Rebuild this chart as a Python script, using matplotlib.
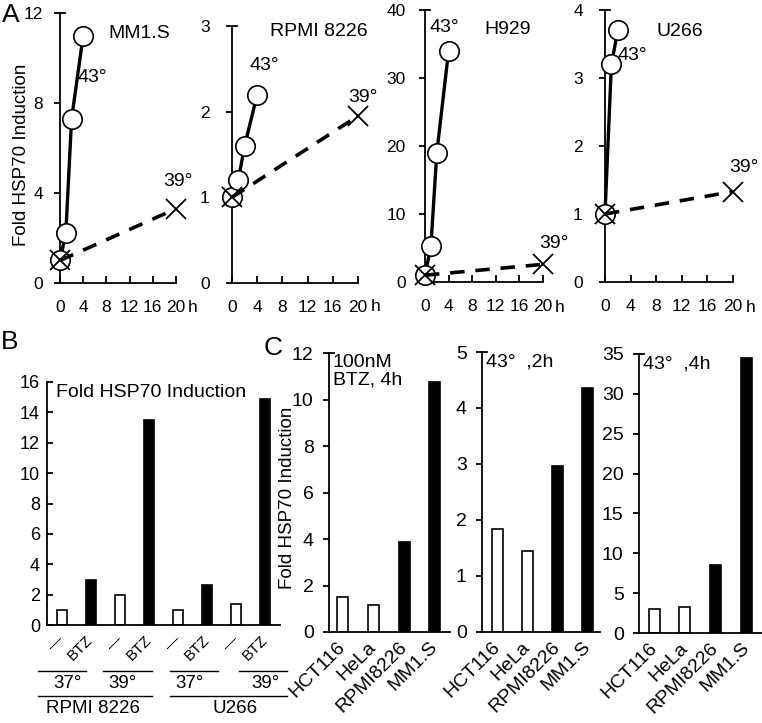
import matplotlib
matplotlib.use("Agg")
import matplotlib.pyplot as plt
from matplotlib.transforms import blended_transform_factory

plt.rcParams['font.family'] = ['Liberation Sans', 'DejaVu Sans']
plt.rcParams['axes.linewidth'] = 1.3

W, H = 762, 723

# ---- panel A: time course, fold HSP70 induction ----
hours_43 = [0, 1, 2, 4]
hours_39 = [0, 20]
mm1s_43 = [1.0, 2.2, 7.3, 11.0]
mm1s_39 = [1.0, 3.3]
rpmi_43 = [1.0, 1.2, 1.6, 2.2]
rpmi_39 = [1.0, 1.95]
h929_43 = [1.0, 5.3, 19.0, 34.0]
h929_39 = [1.0, 2.6]
u266_hours_43 = [0, 1, 2]
u266_43 = [1.0, 3.2, 3.7]
u266_39 = [1.0, 1.33]
time_ticks = [0, 4, 8, 12, 16, 20]

# ---- panel B ----
b_labels = ['—', 'BTZ', '—', 'BTZ', '—', 'BTZ', '—', 'BTZ']
b_values = [1.0, 2.95, 1.95, 13.5, 1.0, 2.65, 1.35, 14.9]
b_colors = ['white', 'black'] * 4
b_temps = ['37°', '39°', '37°', '39°']
b_lines = ['RPMI 8226', 'U266']

# ---- panel C ----
c_cells = ['HCT116', 'HeLa', 'RPMI8226', 'MM1.S']
c_btz = [1.5, 1.15, 3.85, 10.75]
c_43_2h = [1.84, 1.45, 2.96, 4.35]
c_43_4h = [3.0, 3.25, 8.5, 34.5]
c_colors = ['white', 'white', 'black', 'black']

fig = plt.figure(figsize=(W / 100, H / 100), dpi=100)


def add_ax(l, t, r, b):
    # pixel box -> figure fraction
    return fig.add_axes([l / W, 1 - b / H, (r - l) / W, (b - t) / H])


def ftext(x, y, s, **kw):
    fig.text(x / W, 1 - y / H, s, **kw)


def top_tick(ax, width_px):
    ax.plot([0, 5 / width_px], [1, 1], color='black', lw=1.3,
            transform=ax.transAxes, clip_on=False)


# A
a_specs = [
    ((60, 13, 176, 283), 12, [0, 4, 8, 12], mm1s_43, mm1s_39, hours_43, 8),
    ((232, 26, 358, 283), 3, [0, 1, 2, 3], rpmi_43, rpmi_39, hours_43, 12),
    ((425, 10, 543, 282), 40, [0, 10, 20, 30, 40], h929_43, h929_39, hours_43, 10),
    ((605, 10, 733, 282), 4, [0, 1, 2, 3, 4], u266_43, u266_39, u266_hours_43, 12),
]
for box, ymax, yt, v43, v39, t43, pad in a_specs:
    ax = add_ax(*box)
    ax.plot(t43, v43, '-', color='black', lw=2.4, marker='o', ms=14,
            mfc='white', mec='black', mew=1.2, clip_on=False, zorder=3)
    ax.plot(hours_39, v39, '--', color='black', lw=2.6, dashes=(4, 3),
            marker='x', ms=14, mew=1.3, clip_on=False, zorder=4)
    ax.set_xlim(0, 20)
    ax.set_ylim(0, ymax)
    ax.set_xticks(time_ticks)
    ax.set_yticks(yt)
    ax.spines['top'].set_visible(False)
    ax.spines['right'].set_visible(False)
    ax.tick_params(axis='x', direction='in', length=5, width=1.3, pad=12, labelsize=12.5)
    ax.tick_params(axis='y', direction='out', length=4, width=1.3, pad=pad, labelsize=12.5)
    ax.text(1.14, -0.092, 'h', transform=ax.transAxes, fontsize=12.5, ha='center', va='center')
    top_tick(ax, box[2] - box[0])

ftext(22, 155, 'Fold HSP70 Induction', rotation=90, fontsize=13.5, ha='center', va='center')
ftext(11, 15, 'A', fontsize=19, ha='center', va='center')
ftext(108, 33, 'MM1.S', fontsize=14, va='center')
ftext(78, 77, '43°', fontsize=14, va='center')
ftext(163, 182, '39°', fontsize=14, va='center')
ftext(270, 32, 'RPMI 8226', fontsize=14, va='center')
ftext(250, 65, '43°', fontsize=14, va='center')
ftext(348, 97, '39°', fontsize=14, va='center')
ftext(484, 30, 'H929', fontsize=14, va='center')
ftext(429, 28, '43°', fontsize=14, va='center')
ftext(539, 243, '39°', fontsize=14, va='center')
ftext(657, 32, 'U266', fontsize=14, va='center')
ftext(618, 55, '43°', fontsize=14, va='center')
ftext(729, 168, '39°', fontsize=14, va='center')

# B
axb = add_ax(47, 382, 280, 625)
xb = list(range(len(b_values)))
axb.bar(xb, b_values, width=0.34, color=b_colors, edgecolor='black', linewidth=1.2)
axb.set_xlim(-0.5, 7.5)
axb.set_ylim(0, 16)
axb.set_yticks(range(0, 17, 2))
axb.set_xticks(xb)
axb.set_xticklabels(b_labels, rotation=45, ha='right', va='center',
                    rotation_mode='anchor', fontsize=11)
axb.spines['top'].set_visible(False)
axb.spines['right'].set_visible(False)
axb.tick_params(axis='y', direction='in', length=4, width=1.3, pad=5, labelsize=13)
axb.tick_params(axis='x', length=0, pad=9)
axb.text(0.04, 0.99, 'Fold HSP70 Induction', transform=axb.transAxes,
         fontsize=14, va='top')
tb = blended_transform_factory(axb.transData, axb.transAxes)
pair_spans = [(-0.81, 0.84), (1.42, 3.1), (3.73, 5.38), (6.1, 7.75)]
pair_text_x = [0.19, 2.1, 4.41, 6.99]
for (x0, x1), tx, s in zip(pair_spans, pair_text_x, b_temps):
    axb.plot([x0, x1], [-0.19, -0.19], color='black', lw=1, transform=tb, clip_on=False)
    axb.text(tx, -0.242, s, transform=tb, fontsize=13.5, ha='center', va='center')
for (x0, x1), tx, s in zip([(-0.81, 3.1), (3.73, 7.75)], [1.08, 5.96], b_lines):
    axb.plot([x0, x1], [-0.293, -0.293], color='black', lw=1, transform=tb, clip_on=False)
    axb.text(tx, -0.345, s, transform=tb, fontsize=13.5, ha='center', va='center')
ftext(10, 342, 'B', fontsize=19, ha='center', va='center')

# C
c_specs = [
    ((329, 353, 450, 632), c_btz, 12, range(0, 13, 2), (-0.45, 3.5), '100nM\nBTZ, 4h'),
    ((482, 352, 600, 632), c_43_2h, 5, range(0, 6), (-0.5, 3.4), '43°  ,2h'),
    ((639, 354, 762, 633), c_43_4h, 35, range(0, 36, 5), (-0.49, 3.5), '43°  ,4h'),
]
for box, vals, ymax, yt, xl, note in c_specs:
    ax = add_ax(*box)
    ax.bar(range(4), vals, width=0.36, color=c_colors, edgecolor='black', linewidth=1.2)
    ax.set_xlim(*xl)
    ax.set_ylim(0, ymax)
    ax.set_yticks(list(yt))
    ax.set_xticks(range(4))
    ax.set_xticklabels(c_cells, rotation=45, ha='right', va='center',
                       rotation_mode='anchor', fontsize=14)
    ax.spines['top'].set_visible(False)
    ax.spines['right'].set_visible(False)
    ax.tick_params(axis='y', direction='out', length=4, width=1.3, pad=7, labelsize=14)
    ax.tick_params(axis='x', length=0, pad=9)
    ax.text(0.03, 0.995, note, transform=ax.transAxes, fontsize=14, va='top',
            linespacing=1.0)
    top_tick(ax, box[2] - box[0])

ftext(287, 498, 'Fold HSP70 Induction', rotation=90, fontsize=13.5, ha='center', va='center')
ftext(273, 348, 'C', fontsize=19, ha='center', va='center')

fig.savefig('out.png', dpi=100)
